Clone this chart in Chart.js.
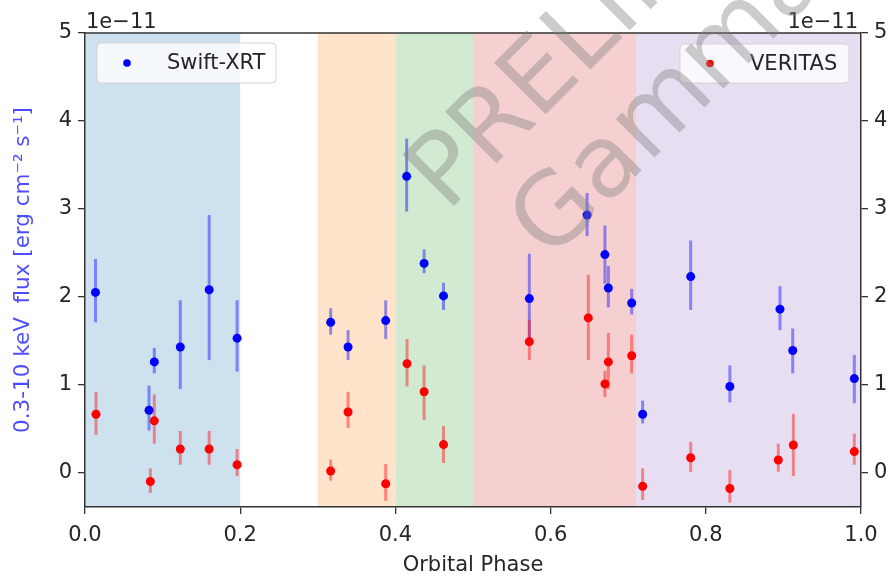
<!DOCTYPE html>
<html>
<head>
<meta charset="utf-8">
<script src="https://cdn.jsdelivr.net/npm/chart.js@4.4.0/dist/chart.umd.min.js"></script>
<style>
  html, body { margin: 0; padding: 0; background: #fff; overflow: hidden; }
  #wrap { width: 890px; height: 578px; }
</style>
</head>
<body>
<div id="wrap"><canvas id="fluxChart"></canvas></div>
<script>
// flux in units of 1e-11 erg cm^-2 s^-1
const xrtPhase = [0.0135, 0.0825, 0.0893, 0.1228, 0.160, 0.196, 0.3166, 0.339, 0.3875, 0.4145, 0.437, 0.462,
  0.5726, 0.647, 0.670, 0.6744, 0.7045, 0.7186, 0.7805, 0.831, 0.8956, 0.912, 0.9914];
const xrtFlux = [2.05, 0.71, 1.26, 1.43, 2.08, 1.53, 1.71, 1.43, 1.73, 3.37, 2.38, 2.01,
  1.98, 2.93, 2.48, 2.10, 1.93, 0.665, 2.23, 0.98, 1.86, 1.39, 1.07];
const xrtLo = [1.71, 0.48, 1.13, 0.95, 1.28, 1.15, 1.57, 1.28, 1.52, 2.97, 2.27, 1.85,
  1.49, 2.69, 2.15, 1.88, 1.80, 0.56, 1.85, 0.80, 1.62, 1.13, 0.79];
const xrtHi = [2.43, 0.99, 1.42, 1.96, 2.93, 1.96, 1.87, 1.62, 1.96, 3.80, 2.54, 2.16,
  2.49, 3.18, 2.81, 2.35, 2.09, 0.82, 2.64, 1.22, 2.12, 1.64, 1.34];

const vtsPhase = [0.0142, 0.0842, 0.0893, 0.1228, 0.160, 0.196, 0.3166, 0.339, 0.3875, 0.415, 0.437, 0.462,
  0.5726, 0.6486, 0.670, 0.6744, 0.7045, 0.7186, 0.7805, 0.831, 0.8934, 0.9128, 0.9914];
const vtsFlux = [0.665, -0.10, 0.59, 0.27, 0.27, 0.09, 0.02, 0.69, -0.125, 1.24, 0.92, 0.32,
  1.49, 1.76, 1.01, 1.26, 1.33, -0.155, 0.17, -0.18, 0.145, 0.315, 0.24];
const vtsLo = [0.43, -0.23, 0.33, 0.09, 0.09, -0.04, -0.09, 0.51, -0.32, 0.98, 0.60, 0.11,
  1.28, 1.28, 0.86, 0.95, 1.13, -0.31, 0.01, -0.34, 0.01, -0.04, 0.09];
const vtsHi = [0.92, 0.05, 0.89, 0.475, 0.475, 0.27, 0.15, 0.92, 0.10, 1.52, 1.22, 0.53,
  1.74, 2.25, 1.16, 1.59, 1.57, 0.05, 0.35, 0.03, 0.33, 0.67, 0.445];

// orbital phase bands
const bandStart = [0.0, 0.3, 0.4, 0.5, 0.71];
const bandEnd = [0.2, 0.4, 0.5, 0.71, 1.0];
const bandColors = ['rgba(31,119,180,0.22)', 'rgba(255,127,14,0.22)', 'rgba(44,160,44,0.22)',
  'rgba(214,39,40,0.22)', 'rgba(148,103,189,0.22)'];

const xTicks = [0.0, 0.2, 0.4, 0.6, 0.8, 1.0];
const yTicks = [0, 1, 2, 3, 4, 5];

const FONT = 'DejaVu Sans';
const INK = '#262626';

const toPoints = (xs, ys) => xs.map((x, i) => ({ x: x, y: ys[i] }));

const bandsPlugin = {
  id: 'bands',
  beforeDraw(chart) {
    const { ctx, chartArea, scales } = chart;
    ctx.save();
    bandStart.forEach((s, i) => {
      const x0 = scales.x.getPixelForValue(s);
      const x1 = scales.x.getPixelForValue(bandEnd[i]);
      ctx.fillStyle = bandColors[i];
      ctx.fillRect(x0, chartArea.top, x1 - x0, chartArea.bottom - chartArea.top);
    });
    ctx.restore();
  }
};

const errorBarPlugin = {
  id: 'errorBars',
  beforeDatasetsDraw(chart) {
    const { ctx, scales } = chart;
    const sets = [
      [xrtPhase, xrtLo, xrtHi, 'rgba(0,0,255,0.42)'],
      [vtsPhase, vtsLo, vtsHi, 'rgba(255,0,0,0.42)']
    ];
    ctx.save();
    ctx.lineWidth = 3;
    sets.forEach(([xs, lo, hi, col]) => {
      ctx.strokeStyle = col;
      xs.forEach((x, i) => {
        const px = scales.x.getPixelForValue(x);
        ctx.beginPath();
        ctx.moveTo(px, scales.y.getPixelForValue(lo[i]));
        ctx.lineTo(px, scales.y.getPixelForValue(hi[i]));
        ctx.stroke();
      });
    });
    ctx.restore();
  }
};

function legendBox(ctx, x, y, w, h, color, label) {
  ctx.save();
  ctx.beginPath();
  ctx.roundRect(x, y, w, h, 4);
  ctx.fillStyle = 'rgba(255,255,255,0.8)';
  ctx.fill();
  ctx.strokeStyle = 'rgba(204,204,204,0.8)';
  ctx.lineWidth = 1;
  ctx.stroke();
  ctx.beginPath();
  ctx.arc(x + 30, y + h / 2, 3.8, 0, Math.PI * 2);
  ctx.fillStyle = color;
  ctx.fill();
  ctx.fillStyle = INK;
  ctx.font = '21px "' + FONT + '"';
  ctx.textBaseline = 'middle';
  ctx.fillText(label, x + 70, y + h / 2 + 1);
  ctx.restore();
}

function watermarkLine(ctx, text, x, y) {
  ctx.save();
  ctx.fillStyle = 'rgba(128,128,128,0.4)';
  ctx.font = '100px "' + FONT + '"';
  ctx.textBaseline = 'alphabetic';
  ctx.textAlign = 'left';
  ctx.translate(x, y);
  ctx.rotate(-Math.PI / 4);
  ctx.fillText(text, 0, 0);
  ctx.restore();
}

const decorPlugin = {
  id: 'decor',
  afterDraw(chart) {
    const { ctx, chartArea } = chart;
    ctx.save();
    // top spine
    ctx.strokeStyle = '#333';
    ctx.lineWidth = 1.5;
    ctx.beginPath();
    ctx.moveTo(chartArea.left, chartArea.top);
    ctx.lineTo(chartArea.right, chartArea.top);
    ctx.stroke();
    // offset text
    ctx.fillStyle = INK;
    ctx.font = '21px "' + FONT + '"';
    ctx.textBaseline = 'alphabetic';
    ctx.textAlign = 'left';
    ctx.fillText('1e\u221211', chartArea.left + 1, chartArea.top - 5);
    ctx.textAlign = 'right';
    ctx.fillText('1e\u221211', chartArea.right - 3, chartArea.top - 5);
    ctx.restore();

    legendBox(ctx, 97, 43, 179, 40, 'blue', 'Swift-XRT');
    legendBox(ctx, 680, 44, 169, 39, 'red', 'VERITAS');

    watermarkLine(ctx, 'PRELIMINARY', 447, 213);
    watermarkLine(ctx, 'Gamma 2022', 550, 262);
  }
};

const tickGrid = { drawOnChartArea: false, drawTicks: true, tickLength: 7, tickColor: '#333', lineWidth: 1.3 };

new Chart(document.getElementById('fluxChart'), {
  type: 'scatter',
  data: {
    datasets: [
      {
        label: 'Swift-XRT',
        data: toPoints(xrtPhase, xrtFlux),
        backgroundColor: 'blue',
        borderColor: 'blue',
        pointRadius: 4.5,
        borderWidth: 0,
        yAxisID: 'y'
      },
      {
        label: 'VERITAS',
        data: toPoints(vtsPhase, vtsFlux),
        backgroundColor: 'red',
        borderColor: 'red',
        pointRadius: 4.5,
        borderWidth: 0,
        yAxisID: 'y'
      }
    ]
  },
  options: {
    responsive: true,
    maintainAspectRatio: false,
    animation: false,
    layout: { padding: { top: 33, left: 0, right: 0, bottom: 0 } },
    plugins: {
      legend: { display: false },
      tooltip: { enabled: false }
    },
    scales: {
      x: {
        type: 'linear',
        min: 0,
        max: 1,
        afterBuildTicks: s => { s.ticks = xTicks.map(v => ({ value: v })); },
        afterFit: s => { s.height = 71; },
        grid: tickGrid,
        border: { color: '#333', width: 1.5 },
        ticks: {
          color: INK,
          font: { family: FONT, size: 21 },
          padding: 9,
          maxRotation: 0,
          callback: v => v.toFixed(1)
        },
        title: {
          display: true,
          text: 'Orbital Phase',
          color: INK,
          font: { family: FONT, size: 21 },
          padding: { top: 0, bottom: 0 }
        }
      },
      y: {
        type: 'linear',
        position: 'left',
        min: -0.39,
        max: 5,
        afterBuildTicks: s => { s.ticks = yTicks.map(v => ({ value: v })); },
        afterFit: s => { s.width = 85; },
        grid: tickGrid,
        border: { color: '#333', width: 1.5 },
        ticks: {
          color: INK,
          font: { family: FONT, size: 21 },
          padding: 6,
          callback: v => String(v)
        },
        title: {
          display: true,
          text: '0.3-10 keV  flux [erg cm\u207B\u00B2 s\u207B\u00B9]',
          color: 'rgba(0,0,255,0.7)',
          font: { family: FONT, size: 21.5 },
          padding: { top: 11, bottom: 0 }
        }
      },
      y2: {
        type: 'linear',
        position: 'right',
        min: -0.39,
        max: 5,
        afterBuildTicks: s => { s.ticks = yTicks.map(v => ({ value: v })); },
        afterFit: s => { s.width = 29; },
        grid: tickGrid,
        border: { color: '#333', width: 1.5 },
        ticks: {
          color: INK,
          font: { family: FONT, size: 21 },
          padding: 6,
          callback: v => String(v)
        }
      }
    }
  },
  plugins: [bandsPlugin, errorBarPlugin, decorPlugin]
});
</script>
</body>
</html>
